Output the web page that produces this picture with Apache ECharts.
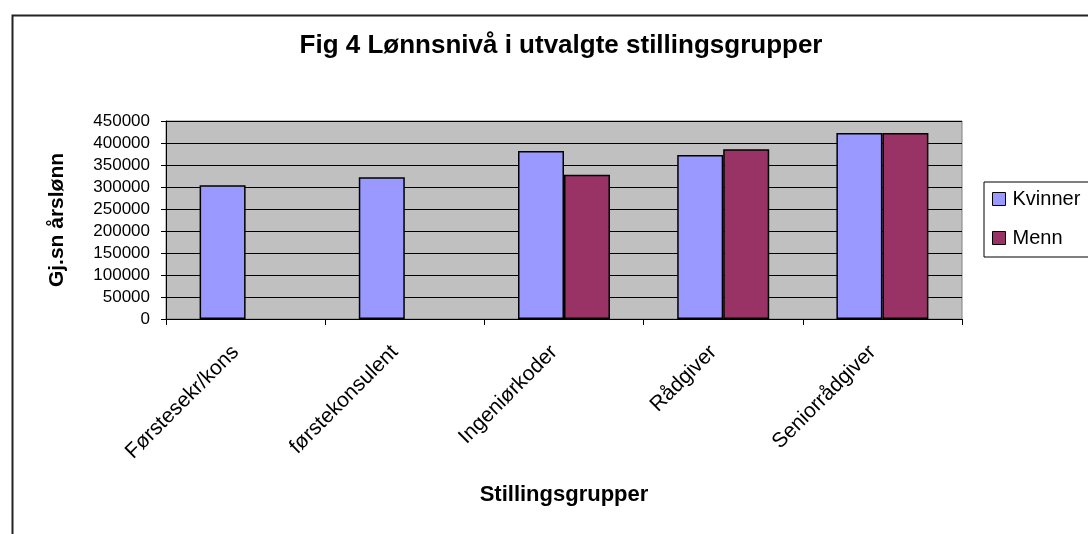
<!DOCTYPE html>
<html>
<head>
<meta charset="utf-8">
<script src="https://cdn.jsdelivr.net/npm/echarts@6/dist/echarts.min.js"></script>
<style>html,body{margin:0;padding:0;background:#fff;}#c{width:1088px;height:534px;}</style>
</head>
<body>
<div id="c"></div>
<script>
const categories = ['Førstesekr/kons', 'førstekonsulent', 'Ingeniørkoder', 'Rådgiver', 'Seniorrådgiver'];
const kvinner = [304000, 322000, 382000, 373000, 423000];
const menn = [null, null, 328000, 386000, 423000];
const yTicks = [0, 50000, 100000, 150000, 200000, 250000, 300000, 350000, 400000, 450000];

const FONT = '"Liberation Sans", Arial, sans-serif';
const chart = echarts.init(document.getElementById('c'), null, {renderer: 'canvas'});
chart.setOption({
  backgroundColor: '#ffffff',
  animation: false,
  textStyle: {fontFamily: FONT},
  graphic: [{
    type: 'rect', left: 10, top: 13, shape: {width: 1100, height: 540},
    style: {fill: 'none', stroke: '#222', lineWidth: 2}, z: -1
  }],
  title: {
    text: 'Fig 4 Lønnsnivå i utvalgte stillingsgrupper',
    left: 556, top: 28, textAlign: 'center',
    textStyle: {fontFamily: FONT, fontSize: 26, fontWeight: 'bold', color: '#000'}
  },
  legend: {
    orient: 'vertical', left: 984, top: 182,
    icon: 'rect', itemWidth: 13, itemHeight: 13, itemGap: 19,
    padding: [7, 30, 9, 8],
    borderColor: '#000', borderWidth: 1,
    itemStyle: {borderColor: '#000', borderWidth: 1},
    textStyle: {fontFamily: FONT, fontSize: 20, lineHeight: 20, color: '#000', padding: [0, 0, 0, 2]},
    data: ['Kvinner', 'Menn']
  },
  grid: {
    left: 166, right: 126, top: 121, bottom: 215,
    show: true, backgroundColor: '#c0c0c0', borderColor: '#808080', borderWidth: 1
  },
  xAxis: {
    type: 'category', data: categories,
    name: 'Stillingsgrupper', nameLocation: 'middle', nameGap: 165,
    nameTextStyle: {fontFamily: FONT, fontSize: 22, fontWeight: 'bold', color: '#000'},
    axisLine: {lineStyle: {color: '#000', width: 1}},
    axisTick: {show: true, length: 6, lineStyle: {color: '#000'}},
    axisLabel: {rotate: 45, fontFamily: FONT, fontSize: 21, color: '#000', margin: 20,
      padding: [0, 14, 0, 0], interval: 0}
  },
  yAxis: {
    type: 'value', min: 0, max: 450000, interval: 50000,
    name: 'Gj.sn årslønn', nameLocation: 'middle', nameGap: 98,
    nameTextStyle: {fontFamily: FONT, fontSize: 21, fontWeight: 'bold', color: '#000'},
    axisLine: {show: true, lineStyle: {color: '#000', width: 1}},
    axisTick: {show: true, length: 5, lineStyle: {color: '#000'}},
    axisLabel: {fontFamily: FONT, fontSize: 17, color: '#000', margin: 16,
      formatter: v => yTicks.includes(v) ? String(v) : ''},
    splitLine: {show: true, lineStyle: {color: '#000', width: 1}}
  },
  series: [
    {name: 'Kvinner', type: 'bar', data: kvinner, barWidth: 46, barGap: '0%',
     itemStyle: {color: '#9999ff', borderColor: '#000', borderWidth: 1.5}},
    {name: 'Menn', type: 'bar', data: menn, barWidth: 46, barGap: '0%',
     itemStyle: {color: '#993366', borderColor: '#000', borderWidth: 1.5}}
  ]
});
</script>
</body>
</html>
